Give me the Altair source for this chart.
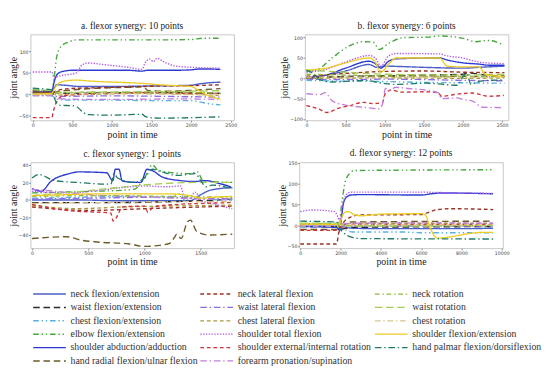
import altair as alt
import pandas as pd

SERIF = "Liberation Serif, DejaVu Serif, serif"

NAMES = [
    "neck flexion/extension", "waist flexion/extension", "chest flexion/extension",
    "elbow flexion/extension", "shoulder abduction/adduction", "hand radial flexion/ulnar flexion",
    "neck lateral flexion", "waist lateral flexion", "chest lateral flexion",
    "shoulder total flexion", "shoulder external/internal rotation", "forearm pronation/supination",
    "neck rotation", "waist rotation", "chest rotation",
    "shoulder flexion/extension", "hand palmar flexion/dorsiflexion",
]
COLORS = ["#4b5ec9", "#2a2a2a", "#5ab0e4", "#46a83c", "#2b3bd0", "#6e5a2a",
          "#9b2f22", "#8d6be6", "#a89a3e", "#b35ee8", "#d0323a", "#c27ee0",
          "#8fb83c", "#a6cc55", "#d8c48a", "#eccb22", "#1f7a66"]
DASHES = [[1, 0], [7, 4], [6, 3, 1.5, 3, 1.5, 3], [6, 3, 1.5, 3, 1.5, 3], [1, 0], [7, 4],
          [4, 3], [7, 3, 1.5, 3], [4, 3], [1.5, 1.5], [4, 3], [7, 3, 1.5, 3],
          [5, 3, 1.5, 3], [8, 4], [6, 3, 1.5, 3], [1, 0], [7, 3, 1.5, 3]]
WIDTHS = [1.5, 1.4, 1.4, 1.5, 2.2, 1.4, 1.4, 1.4, 1.4, 1.6, 1.4, 1.4, 1.4, 1.4, 1.4, 1.8, 1.5]

# ---- panel a: flexor synergy 10 points ----
PANEL_A = {
    "neck flexion/extension": ([0, 240, 270, 300, 400, 600, 1000, 1400, 1800, 2000, 2100, 2250, 2370],
                               [3, 4, 14, 22, 21, 18, 18, 19, 20, 21, 24, 27, 28]),
    "waist flexion/extension": ([0, 240, 300, 500, 1000, 1500, 2000, 2370], [8, 7, 3, 2, 3, 4, 3, 2]),
    "chest flexion/extension": ([0, 240, 280, 330, 600, 1000, 1500, 2000, 2100, 2250, 2370],
                                [-2, -3, -9, -13, -14, -14, -15, -15, -18, -23, -25]),
    "elbow flexion/extension": ([0, 240, 270, 300, 350, 450, 550, 1000, 1500, 2000, 2150, 2370],
                                [12, 8, 40, 85, 110, 122, 127, 127, 127, 128, 131, 131]),
    "shoulder abduction/adduction": ([0, 240, 265, 290, 330, 400, 500, 800, 1200, 1380, 1450, 1800, 2000, 2100, 2200, 2370],
                                     [5, 5, 25, 40, 50, 54, 56, 56, 56, 54, 56, 56, 57, 59, 59, 58]),
    "hand radial flexion/ulnar flexion": ([0, 240, 300, 500, 800, 1200, 1400, 1450, 1700, 2000, 2370],
                                          [5, 4, 6, 10, 14, 16, 17, 9, 7, 9, 13]),
    "neck lateral flexion": ([0, 240, 300, 450, 800, 1200, 1600, 2000, 2370], [4, 4, 8, 13, 15, 17, 19, 20, 22]),
    "waist lateral flexion": ([0, 240, 300, 1000, 2000, 2370], [-3, -3, -5, -4, -6, -7]),
    "chest lateral flexion": ([0, 240, 300, 800, 1400, 2000, 2370], [2, 2, -2, 0, 2, 0, -3]),
    "shoulder total flexion": ([0, 240, 270, 300, 350, 450, 550, 620, 700, 900, 1200, 1380, 1420, 1480, 1520, 1570, 1650, 1800, 2000, 2370],
                               [52, 52, 38, 40, 43, 46, 50, 68, 73, 69, 63, 58, 74, 82, 76, 84, 76, 66, 63, 61]),
    "shoulder external/internal rotation": ([0, 240, 260, 290, 330, 400, 600, 1000, 1400, 1800, 2000, 2370],
                                            [-55, -55, -40, -22, -10, -3, 0, 2, 4, 3, 2, 2]),
    "forearm pronation/supination": ([0, 240, 300, 600, 1200, 1800, 2370], [-3, -3, -10, -12, -12, -11, -12]),
    "neck rotation": ([0, 240, 300, 1000, 2000, 2370], [0, 0, 3, 5, 4, 2]),
    "waist rotation": ([0, 240, 300, 1000, 2000, 2370], [10, 9, 4, 5, 7, 8]),
    "chest rotation": ([0, 240, 300, 1000, 2000, 2370], [-1, -1, 0, 1, -1, -2]),
    "shoulder flexion/extension": ([0, 240, 270, 300, 350, 450, 550, 700, 900, 1200, 1400, 1600, 1800, 2000, 2100, 2200, 2370],
                                   [0, 2, 12, 20, 28, 32, 33, 31, 29, 27, 25, 22, 20, 18, 8, -2, -12]),
    "hand palmar flexion/dorsiflexion": ([0, 240, 270, 300, 350, 500, 560, 620, 700, 1000, 1380, 1420, 1480, 1600, 2000, 2370],
                                         [14, 10, -8, -20, -26, -27, -30, -40, -48, -49, -47, -52, -55, -56, -55, -53]),
}

# ---- panel b: flexor synergy 6 points ----
PANEL_B = {
    "neck flexion/extension": ([0, 250, 500, 800, 900, 1000, 1200, 1500, 2000, 2200, 2530],
                               [0, 8, 18, 34, 27, 30, 29, 27, 25, 27, 30]),
    "waist flexion/extension": ([0, 300, 600, 1000, 1500, 2000, 2050, 2300, 2530], [0, 3, 5, 6, 8, 10, 13, 8, 6]),
    "chest flexion/extension": ([0, 500, 1000, 1500, 2000, 2530], [-5, -7, -8, -10, -11, -12]),
    "elbow flexion/extension": ([0, 135, 334, 533, 732, 851, 931, 1050, 1249, 1527, 1726, 2005, 2164, 2323, 2522],
                                [17, 21, 51, 78, 90, 89, 71, 86, 100, 101, 104, 98, 90, 93, 82]),
    "shoulder abduction/adduction": ([0, 250, 500, 800, 900, 950, 1050, 1150, 1700, 1800, 2000, 2200, 2350, 2530],
                                     [2, 8, 25, 42, 33, 25, 42, 48, 50, 45, 38, 35, 32, 32]),
    "hand radial flexion/ulnar flexion": ([0, 500, 1000, 1500, 2000, 2530], [2, 4, 5, 6, 5, 4]),
    "neck lateral flexion": ([0, 500, 1000, 1500, 2000, 2530], [5, 12, 17, 18, 15, 14]),
    "waist lateral flexion": ([0, 500, 1000, 1500, 2000, 2530], [-2, -3, -2, -3, -5, -6]),
    "chest lateral flexion": ([0, 1000, 2000, 2530], [0, 1, 0, 1]),
    "shoulder total flexion": ([0, 250, 500, 800, 880, 950, 1050, 1150, 1700, 1800, 2000, 2150, 2300, 2530],
                               [15, 22, 40, 56, 50, 30, 55, 61, 60, 55, 50, 42, 38, 36]),
    "shoulder external/internal rotation": ([0, 175, 255, 414, 533, 732, 851, 971, 1010, 1090, 1209, 1527, 1686, 1726, 1925, 2124, 2323, 2522],
                                            [-67, -77, -84, -73, -68, -59, -62, -59, -36, -29, -34, -33, -36, -44, -39, -36, -44, -42]),
    "forearm pronation/supination": ([0, 175, 235, 334, 533, 732, 930, 971, 1010, 1090, 1130, 1300, 1527, 1686, 1726, 1925, 2005, 2124, 2250, 2522],
                                     [-38, -40, -35, -56, -67, -71, -75, -64, -25, -29, -22, -25, -29, -36, -50, -48, -52, -56, -71, -72]),
    "neck rotation": ([0, 500, 1000, 1500, 2000, 2530], [10, 8, 6, 5, 4, 5]),
    "waist rotation": ([0, 500, 1000, 2000, 2530], [20, 15, 10, 8, 10]),
    "chest rotation": ([0, 1000, 2000, 2530], [3, 3, 2, 3]),
    "shoulder flexion/extension": ([0, 250, 500, 800, 880, 950, 1050, 1150, 1700, 1800, 2000, 2200, 2300, 2530],
                                   [20, 25, 38, 50, 40, 15, 35, 50, 50, 30, 28, 28, 8, 5]),
    "hand palmar flexion/dorsiflexion": ([0, 60, 135, 334, 732, 971, 1130, 1527, 1925, 2005, 2050, 2100, 2164, 2323, 2522],
                                         [20, 15, -1, -9, -5, -12, -15, -12, -17, 5, 12, -15, -10, -5, -4]),
}

# ---- panel c: flexor synergy 1 points ----
PANEL_C = {
    "neck flexion/extension": ([0, 400, 800, 1200, 1400, 1500, 1560, 1670, 1780], [0, 0, -1, -1, -1, 6, 10, 13, 14]),
    "waist flexion/extension": ([0, 400, 800, 1200, 1500, 1780], [-3, -3, -3, -2, -1, 1]),
    "chest flexion/extension": ([0, 400, 800, 1200, 1320, 1360, 1420, 1500, 1780], [2, 3, 4, 3, 7, -1, 2, 1, 0]),
    "elbow flexion/extension": ([0, 300, 600, 900, 1000, 1070, 1120, 1250, 1400, 1470, 1520, 1600, 1780],
                                [8, 9, 10, 12, 25, 40, 34, 31, 30, 32, 22, 21, 20]),
    "shoulder abduction/adduction": ([0, 83, 166, 331, 414, 663, 718, 740, 773, 800, 828, 967, 1022, 1077, 1160, 1326, 1437, 1547, 1658, 1768],
                                     [13, 10, 21, 30, 32, 31, 22, 35, 35, 22, 21, 20, 35, 33, 26, 22, 21, 22, 19, 15]),
    "hand radial flexion/ulnar flexion": ([0, 304, 442, 580, 856, 994, 1215, 1270, 1286, 1326, 1381, 1409, 1464, 1575, 1780],
                                          [-44, -42, -46, -48, -50, -53, -50, -42, -39, -44, -25, -23, -36, -40, -39]),
    "neck lateral flexion": ([0, 500, 1000, 1500, 1780], [-8, -12, -10, -8, -7]),
    "waist lateral flexion": ([0, 500, 1000, 1500, 1780], [1, 2, 3, 2, 1]),
    "chest lateral flexion": ([0, 400, 800, 1200, 1780], [-6, -10, -8, -7, -6]),
    "shoulder total flexion": ([0, 300, 600, 800, 1000, 1200, 1320, 1350, 1400, 1450, 1500, 1600, 1780],
                               [10, 8, 11, 14, 16, 15, 16, 5, 2, 9, 0, -4, -10]),
    "shoulder external/internal rotation": ([0, 200, 400, 600, 700, 720, 760, 800, 1000, 1030, 1080, 1300, 1500, 1780],
                                            [-5, -10, -13, -14, -15, -24, -18, -8, -7, -14, -8, -5, -4, -3]),
    "forearm pronation/supination": ([0, 200, 500, 900, 1300, 1780], [12, 10, 6, 4, 2, 0]),
    "neck rotation": ([0, 600, 1200, 1780], [4, 5, 4, 3]),
    "waist rotation": ([0, 300, 600, 900, 1200, 1500, 1780], [5, 8, 12, 16, 19, 20, 20]),
    "chest rotation": ([0, 600, 1200, 1780], [-4, -3, -2, -2]),
    "shoulder flexion/extension": ([0, 300, 600, 900, 1200, 1400, 1500, 1600, 1780], [5, 6, 7, 7, 7, 5, 2, 3, 4]),
    "hand palmar flexion/dorsiflexion": ([0, 60, 200, 400, 700, 730, 760, 900, 1000, 1070, 1150, 1300, 1450, 1500, 1550, 1600, 1780],
                                         [25, 29, 22, 20, 18, 30, 25, 20, 25, 35, 32, 28, 30, 22, 15, 17, 13]),
}

# ---- panel d: flexor synergy 12 points ----
PANEL_D = {
    "neck flexion/extension": ([0, 1800, 2000, 2300, 2600, 4000, 6000, 8000, 9570], [-2, -3, -10, -6, -7, -8, -8, -8, -7]),
    "waist flexion/extension": ([0, 1800, 2100, 2500, 5000, 9570], [-3, -3, -8, -5, -4, -3]),
    "chest flexion/extension": ([0, 1800, 2000, 2300, 2600, 5000, 6000, 9570], [0, 0, -5, -12, -16, -16, -18, -18]),
    "elbow flexion/extension": ([0, 1800, 1925, 2075, 2240, 2475, 2700, 5000, 9570], [4, 4, 7, 59, 107, 126, 132, 133, 134]),
    "shoulder abduction/adduction": ([0, 1800, 1950, 2050, 2150, 2300, 2500, 3000, 6000, 6500, 7000, 9570],
                                     [-3, -5, -12, 20, 55, 68, 73, 74, 73, 76, 78, 76]),
    "hand radial flexion/ulnar flexion": ([0, 1800, 2000, 2500, 9570], [-10, -10, -5, 8, 10]),
    "neck lateral flexion": ([0, 1800, 1900, 2000, 2200, 2500, 3000, 6000, 6300, 6800, 7500, 9570],
                             [-45, -45, -20, -5, 10, 20, 25, 26, 30, 38, 40, 38]),
    "waist lateral flexion": ([0, 1800, 2100, 2500, 9570], [0, 0, -4, -2, -2]),
    "chest lateral flexion": ([0, 1800, 2200, 2600, 9570], [2, 2, 4, 5, 5]),
    "shoulder total flexion": ([0, 600, 1700, 1850, 1950, 2100, 2250, 2500, 3000, 6000, 7000, 9570],
                               [33, 37, 33, 22, 10, 50, 72, 80, 80, 80, 79, 77]),
    "shoulder external/internal rotation": ([0, 1800, 2100, 2500, 9570], [-12, -12, -6, 2, 2]),
    "forearm pronation/supination": ([0, 1800, 2100, 2500, 6000, 9570], [0, 0, 3, 5, 6, 5]),
    "neck rotation": ([0, 1800, 2200, 9570], [3, 3, 0, 0]),
    "waist rotation": ([0, 1800, 2200, 9570], [5, 5, -2, -1]),
    "chest rotation": ([0, 1800, 2200, 9570], [-2, -2, 1, 1]),
    "shoulder flexion/extension": ([0, 1800, 1900, 2000, 2150, 2300, 2450, 2700, 3000, 4000, 6000, 6200, 6480, 6800, 7430, 8370, 9000, 9570],
                                   [3, 2, -5, 10, 28, 33, 32, 25, 23, 27, 28, 25, -10, -31, -28, -20, -17, -17]),
    "hand palmar flexion/dorsiflexion": ([0, 1800, 2000, 2200, 2500, 3000, 9570], [10, 8, -10, -20, -28, -32, -33]),
}

TITLES = ["a. flexor synergy: 10 points", "b. flexor synergy: 6 points",
          "c. flexor synergy: 1 points", "d. flexor synergy: 12 points"]

# legend layout (pixels within the legend strip)
LEG_COL_X = [3, 182, 369]
LEG_SYM = 35
LEG_GAP = 5


def long_df(panel):
    rows = []
    for name, (xs, ys) in panel.items():
        for x, y in zip(xs, ys):
            rows.append({"series": name, "t": x, "angle": y})
    return pd.DataFrame(rows)


color_enc = alt.Color("series:N", scale=alt.Scale(domain=NAMES, range=COLORS), legend=None)
dash_enc = alt.StrokeDash("series:N", scale=alt.Scale(domain=NAMES, range=DASHES), legend=None)
width_enc = alt.StrokeWidth("series:N", scale=alt.Scale(domain=NAMES, range=WIDTHS), legend=None)

AX = dict(labelFontSize=5, labelColor="#444", tickSize=2, tickColor="#888", domain=False, grid=False,
          titleFont=SERIF, titleFontSize=10.5, titleFontWeight="normal", titleColor="#222",
          labelFont="DejaVu Sans")


def panel(df, title, xdom, xvals, ydom, yvals, h):
    return alt.Chart(df).mark_line(interpolate="monotone", clip=True).encode(
        x=alt.X("t:Q", scale=alt.Scale(domain=xdom, nice=False, zero=False),
                axis=alt.Axis(values=xvals, format="d", title="point in time", titlePadding=2,
                              labelPadding=1, **AX)),
        y=alt.Y("angle:Q", scale=alt.Scale(domain=ydom, nice=False, zero=False),
                axis=alt.Axis(values=yvals, format="d", title="joint angle", titlePadding=0,
                              labelPadding=0.5, **AX)),
        color=color_enc, strokeDash=dash_enc, strokeWidth=width_enc,
    ).properties(width=218, height=h,
                 title=alt.TitleParams(title, font=SERIF, fontSize=10, fontWeight="normal",
                                       color="#222", offset=4))


pa = panel(long_df(PANEL_A), TITLES[0], [-30, 2540], [0, 500, 1000, 1500, 2000, 2500],
           [-61, 140], [-50, 0, 50, 100], 92)
pb = panel(long_df(PANEL_B), TITLES[1], [-20, 2580], [0, 500, 1000, 1500, 2000, 2500],
           [-103, 108], [-100, -50, 0, 50, 100], 92)
pc = panel(long_df(PANEL_C), TITLES[2], [-15, 1795], [0, 500, 1000, 1500],
           [-55, 43], [-40, -20, 0, 20, 40], 92)
pd_ = panel(long_df(PANEL_D), TITLES[3], [-50, 10050], [0, 2000, 4000, 6000, 8000, 10000],
            [-55, 152], [-50, 0, 50, 100, 150], 92)

leg_rows = []
for i, name in enumerate(NAMES):
    c, r = divmod(i, 6)
    xs = LEG_COL_X[c]
    leg_rows.append({"series": name, "row": r, "xs": xs, "xe": xs + LEG_SYM, "xt": xs + LEG_SYM + LEG_GAP})
leg = pd.DataFrame(leg_rows)

lx = alt.Scale(domain=[0, 530])
ly = alt.Y("row:Q", scale=alt.Scale(domain=[-0.5, 5.5], reverse=True), axis=None)
sym = alt.Chart(leg).mark_rule().encode(
    x=alt.X("xs:Q", scale=lx, axis=None), x2="xe:Q", y=ly,
    color=color_enc, strokeDash=dash_enc, strokeWidth=width_enc)
txt = alt.Chart(leg).mark_text(align="left", baseline="middle", font=SERIF, fontSize=10.5,
                               color="#333").encode(
    x=alt.X("xt:Q", scale=lx, axis=None), y=ly, text="series:N")
legend = alt.layer(sym, txt).properties(width=530, height=86, view=alt.ViewBackground(stroke=None))

row1 = alt.hconcat(pa, pb, spacing=45)
row2 = alt.hconcat(pc, pd_, spacing=45)
top = alt.vconcat(row1, row2, spacing=8)
chart = alt.vconcat(top, legend, spacing=21).properties(padding=0).configure_view(
    stroke="#c4c4c4", strokeWidth=1
)

chart.save("out.html", embed_options={"renderer": "svg", "actions": False})
